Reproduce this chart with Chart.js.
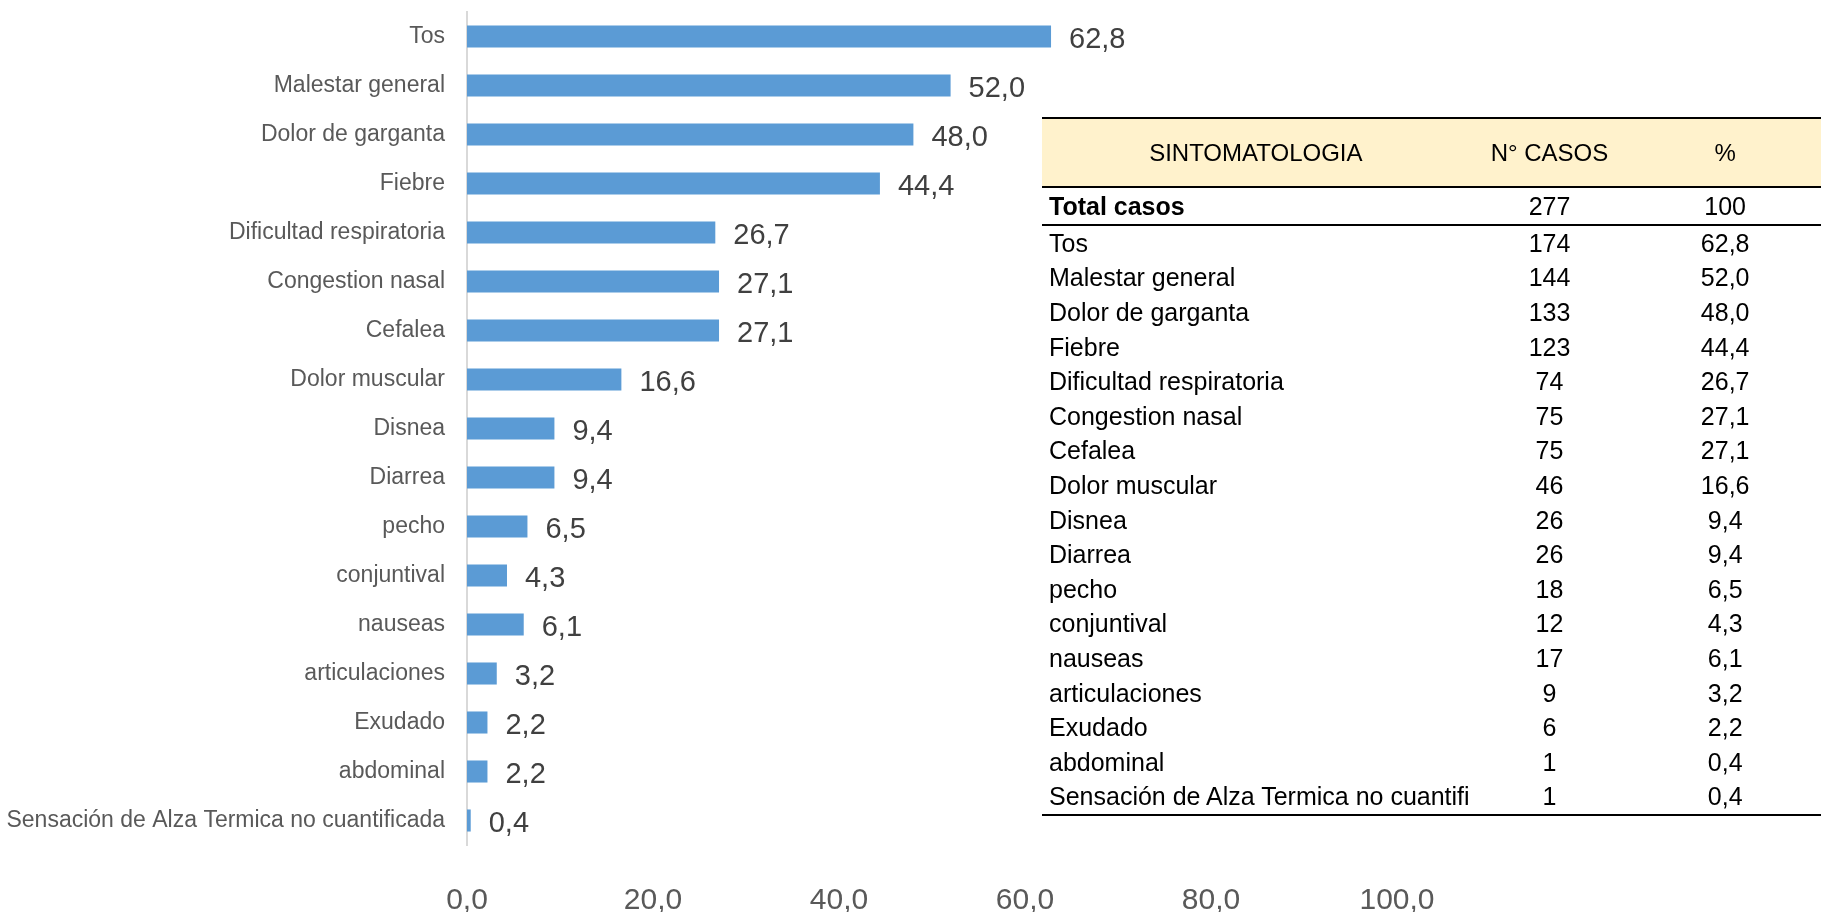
<!DOCTYPE html>
<html lang="es">
<head>
    <meta charset="UTF-8">
    <title>Sintomatologia</title>
    <script src="https://cdn.jsdelivr.net/npm/chart.js@4.4.1/dist/chart.umd.min.js"></script>
    <style>
        html, body { margin: 0; padding: 0; background: #fff; }
        #wrap { position: relative; width: 1821px; height: 912px; overflow: hidden; }
        #chart { position: absolute; left: 0; top: 0; }
        #tabla {
            position: absolute; left: 1042px; top: 117px; width: 779px;
            border-collapse: collapse; font-family: "Liberation Sans", Arial, sans-serif;
            font-size: 25px; color: #000;
        }
        #tabla th { background: #FFF2CC; font-weight: normal; font-size: 24px; height: 67px; padding: 0;
            border-top: 2px solid #000; border-bottom: 2px solid #000; }
        #tabla td { height: 34.6px; padding: 0; line-height: 1; }
        #tabla td.c1 { text-align: left; padding-left: 7px; white-space: nowrap; }
        #tabla td.c2, #tabla td.c3 { text-align: center; }
        #tabla tr.total td { border-bottom: 2px solid #000; height: 36px; }
        #tabla tr.last td { border-bottom: 2px solid #000; }
    </style>
</head>
<body>
<div id="wrap">
    <canvas id="chart" width="1821" height="912"></canvas>
    <table id="tabla">
        <thead>
            <tr><th style="width:424px">SINTOMATOLOGIA</th><th style="width:161px">N° CASOS</th><th style="width:194px">%</th></tr>
        </thead>
        <tbody id="tbody"></tbody>
    </table>
</div>

<script>
    // datos del grafico
    const categories = ['Tos', 'Malestar general', 'Dolor de garganta', 'Fiebre', 'Dificultad respiratoria',
        'Congestion nasal', 'Cefalea', 'Dolor muscular', 'Disnea', 'Diarrea', 'pecho', 'conjuntival',
        'nauseas', 'articulaciones', 'Exudado', 'abdominal', 'Sensación de Alza Termica no cuantificada'];
    const percentValues = [62.8, 52.0, 48.0, 44.4, 26.7, 27.1, 27.1, 16.6, 9.4, 9.4, 6.5, 4.3, 6.1, 3.2, 2.2, 2.2, 0.4];
    const xMin = 0, xMax = 100, xStep = 20;

    // datos de la tabla
    const tableSymptoms = ['Tos', 'Malestar general', 'Dolor de garganta', 'Fiebre', 'Dificultad respiratoria',
        'Congestion nasal', 'Cefalea', 'Dolor muscular', 'Disnea', 'Diarrea', 'pecho', 'conjuntival',
        'nauseas', 'articulaciones', 'Exudado', 'abdominal', 'Sensación de Alza Termica no cuantifi'];
    const tableCases = [174, 144, 133, 123, 74, 75, 75, 46, 26, 26, 18, 12, 17, 9, 6, 1, 1];
    const tablePercent = ['62,8', '52,0', '48,0', '44,4', '26,7', '27,1', '27,1', '16,6', '9,4', '9,4',
        '6,5', '4,3', '6,1', '3,2', '2,2', '0,4', '0,4'];
    const totalCases = 277, totalPercent = 100;

    const fmt = v => Number(v).toFixed(1).replace('.', ',');
    const FONT = '"Liberation Sans", Arial, sans-serif';

    // tabla
    const tbody = document.getElementById('tbody');
    let html = '<tr class="total"><td class="c1"><b>Total casos</b></td><td class="c2">' + totalCases +
        '</td><td class="c3">' + totalPercent + '</td></tr>';
    tableSymptoms.forEach((s, i) => {
        const cls = i === tableSymptoms.length - 1 ? ' class="last"' : '';
        html += '<tr' + cls + '><td class="c1">' + s + '</td><td class="c2">' + tableCases[i] +
            '</td><td class="c3">' + tablePercent[i] + '</td></tr>';
    });
    tbody.innerHTML = html;

    // etiquetas de valor al final de cada barra
    const valueLabels = {
        id: 'valueLabels',
        afterDatasetsDraw(chart) {
            const ctx = chart.ctx;
            const meta = chart.getDatasetMeta(0);
            ctx.save();
            ctx.font = '29px ' + FONT;
            ctx.fillStyle = '#404040';
            ctx.textAlign = 'left';
            ctx.textBaseline = 'middle';
            meta.data.forEach((bar, i) => {
                ctx.fillText(fmt(chart.data.datasets[0].data[i]), bar.x + 18, bar.y + 3);
            });
            ctx.restore();
        }
    };

    new Chart(document.getElementById('chart').getContext('2d'), {
        type: 'bar',
        data: {
            labels: categories,
            datasets: [{
                data: percentValues,
                backgroundColor: '#5B9BD5',
                borderWidth: 0,
                categoryPercentage: 0.45,
                barPercentage: 1
            }]
        },
        options: {
            indexAxis: 'y',
            responsive: false,
            animation: false,
            devicePixelRatio: 1,
            layout: { padding: { top: 12, right: 424, left: 0, bottom: 0 } },
            plugins: { legend: { display: false }, tooltip: { enabled: false } },
            scales: {
                y: {
                    grid: { display: false, drawTicks: false },
                    border: { display: true, color: '#D9D9D9', width: 2 },
                    ticks: { padding: 22, color: '#595959', font: { size: 23, family: FONT } },
                    afterFit(s) { s.width = 467; s.paddingTop = 0; s.paddingBottom = 0; }
                },
                x: {
                    min: xMin, max: xMax,
                    grid: { display: false, drawTicks: false },
                    border: { display: false },
                    ticks: {
                        stepSize: xStep, padding: 38, color: '#595959',
                        font: { size: 30, family: FONT },
                        callback: v => fmt(v)
                    },
                    afterFit(s) { s.height = 67; }
                }
            }
        },
        plugins: [valueLabels]
    });
</script>
</body>
</html>
